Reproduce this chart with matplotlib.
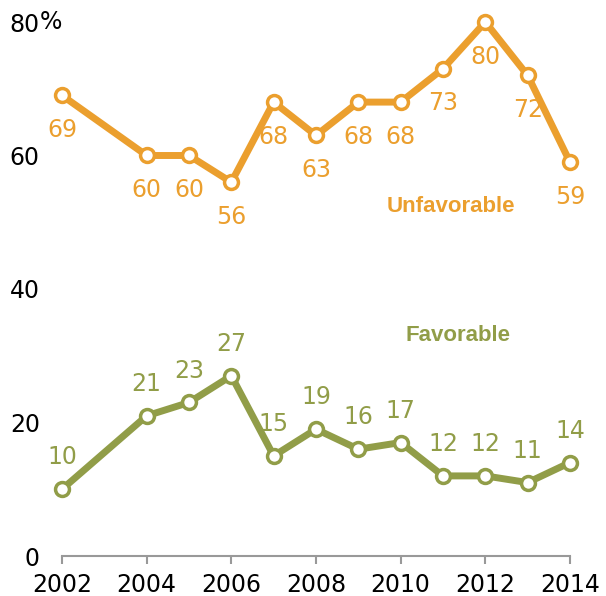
import matplotlib.pyplot as plt

years = [2002, 2004, 2005, 2006, 2007, 2008, 2009, 2010, 2011, 2012, 2013, 2014]
unfavorable = [69, 60, 60, 56, 68, 63, 68, 68, 73, 80, 72, 59]
favorable = [10, 21, 23, 27, 15, 19, 16, 17, 12, 12, 11, 14]
xticks = [2002, 2004, 2006, 2008, 2010, 2012, 2014]
yticks = [0, 20, 40, 60, 80]

orange = '#EB9F2E'
green = '#919D48'

plt.rcParams['font.family'] = ['DejaVu Sans']

fig = plt.figure(figsize=(6.06, 5.96), dpi=100)
W, H = 606, 596
ax = fig.add_axes([62 / W, (H - 556) / H, (570 - 62) / W, (556 - 22) / H])
ax.set_xlim(2002, 2014)
ax.set_ylim(0, 80)

for vals, col, dy in [(unfavorable, orange, -25), (favorable, green, 23)]:
    ax.plot(years, vals, color=col, lw=5, marker='o', ms=10, mfc='white',
            mec=col, mew=2.5, clip_on=False, zorder=3)
    for x, v in zip(years, vals):
        ax.annotate(str(v), (x, v), xytext=(0, dy), textcoords='offset points',
                    ha='center', va='center', color=col, fontsize=17)

ax.text(2011.19, 52.4, 'Unfavorable', color=orange, fontsize=16, fontweight='bold',
        ha='center', va='center', family='Liberation Sans')
ax.text(2011.35, 33.1, 'Favorable', color=green, fontsize=16, fontweight='bold',
        ha='center', va='center', family='Liberation Sans')

for s in ['top', 'right', 'left']:
    ax.spines[s].set_visible(False)
ax.spines['bottom'].set_color('#999999')
ax.spines['bottom'].set_linewidth(1.5)

ax.set_xticks(xticks)
ax.set_xticklabels([str(x) for x in xticks], fontsize=17)
ax.tick_params(axis='x', direction='out', length=6, width=1.5, color='#999999', pad=6)

ax.set_yticks(yticks)
ax.set_yticklabels([str(y) for y in yticks], fontsize=17)
ax.tick_params(axis='y', length=0, pad=16)
ax.text(-0.043, 1.0, '%', transform=ax.transAxes, fontsize=17, ha='left', va='center')

fig.savefig('out.png', dpi=100)
